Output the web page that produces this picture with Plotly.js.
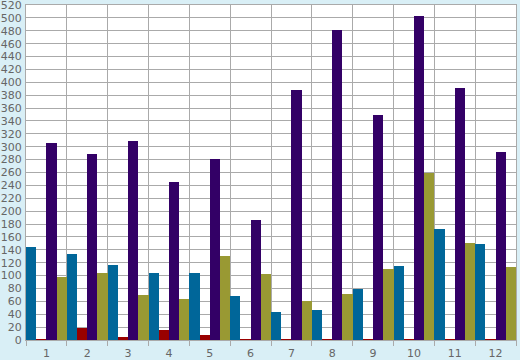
<!DOCTYPE html>
<html>
<head>
<meta charset="utf-8">
<script src="https://cdn.plot.ly/plotly-3.0.1.min.js"></script>
<style>html,body{margin:0;padding:0;background:#d9eff6;}</style>
</head>
<body>
<div id="chart" style="width:520px;height:360px;"></div>
<script>
var categories = ["1","2","3","4","5","6","7","8","9","10","11","12"];
var seriesBlue   = [144, 133, 116, 104, 104, 68, 43, 47, 79, 115, 172, 149];
var seriesRed    = [1.5, 19, 4, 16, 7, 1.5, 1.5, 1.5, 1.5, 1.5, 1.5, 1.5];
var seriesPurple = [306, 289, 309, 245, 281, 186, 388, 481, 350, 503, 391, 292];
var seriesOlive  = [98, 104, 70, 64, 131, 103, 61, 72, 110, 260, 151, 113];
var yTicks = [0,20,40,60,80,100,120,140,160,180,200,220,240,260,280,300,320,340,360,380,400,420,440,460,480,500,520];

function bar(y, color) {
  return {type: "bar", x: categories, y: y, marker: {color: color, line: {width: 0}}, hoverinfo: "y"};
}
var data = [
  bar(seriesBlue, "#006699"),
  bar(seriesRed, "#990000"),
  bar(seriesPurple, "#330066"),
  bar(seriesOlive, "#999933")
];
var layout = {
  width: 520, height: 360,
  margin: {l: 26, r: 4, t: 5, b: 20, pad: 0},
  paper_bgcolor: "#d9eff6",
  plot_bgcolor: "#ffffff",
  showlegend: false,
  barmode: "group",
  bargap: 0,
  bargroupgap: 0,
  font: {family: "DejaVu Sans", size: 11, color: "#666666"},
  xaxis: {
    type: "category",
    tickson: "boundaries",
    ticks: "outside", ticklen: 5, tickcolor: "#aaaaaa", tickwidth: 1,
    ticklabelstandoff: 3,
    showgrid: true, gridcolor: "#aaaaaa", gridwidth: 1,
    showline: true, linecolor: "#aaaaaa", linewidth: 1, mirror: true,
    range: [-0.5, 11.5],
    tickfont: {family: "DejaVu Sans", size: 11, color: "#666666"}
  },
  yaxis: {
    range: [0, 520],
    tickmode: "array", tickvals: yTicks, ticktext: yTicks.map(String),
    ticklabeloverflow: "allow",
    showgrid: true, gridcolor: "#aaaaaa", gridwidth: 1,
    showline: true, linecolor: "#aaaaaa", linewidth: 1, mirror: true,
    zeroline: false,
    ticks: "", ticklabelstandoff: 1,
    tickfont: {family: "DejaVu Sans", size: 11, color: "#666666"}
  }
};
Plotly.newPlot("chart", data, layout, {displayModeBar: false, staticPlot: true});
</script>
</body>
</html>
